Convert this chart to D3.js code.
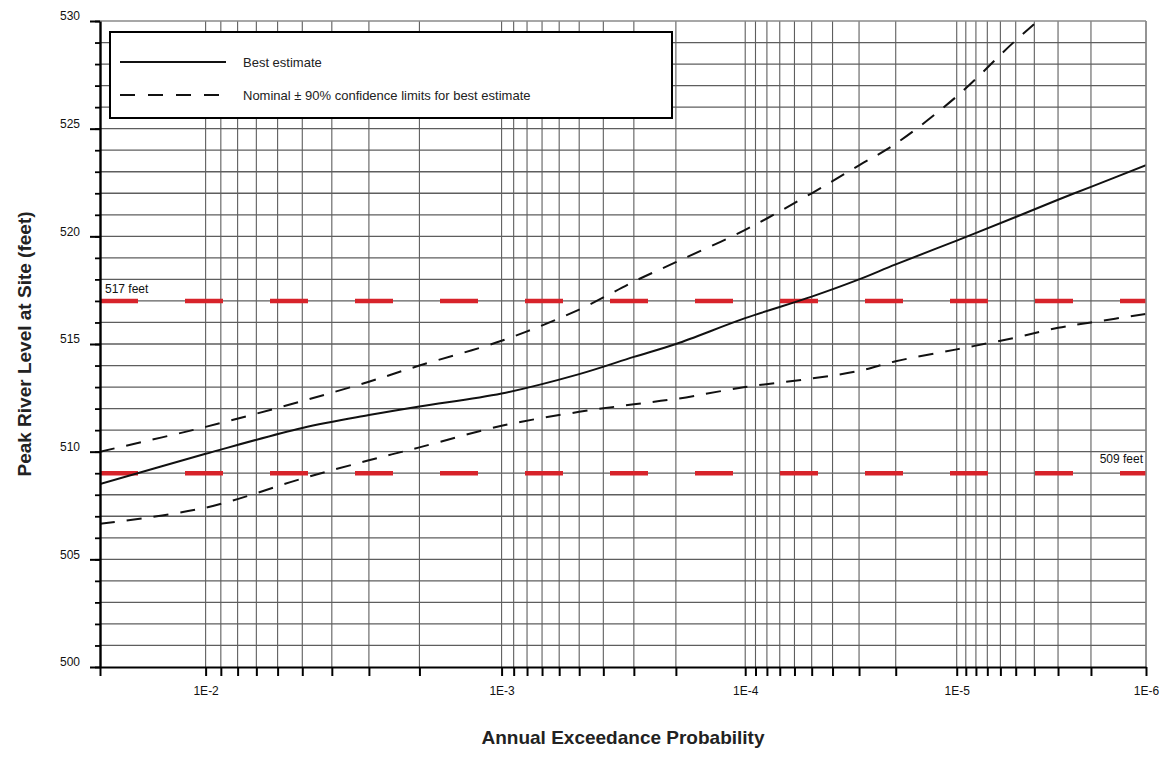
<!DOCTYPE html>
<html>
<head>
<meta charset="utf-8">
<script src="https://cdn.jsdelivr.net/npm/d3@7"></script>
<style>
  body { margin: 0; background: #fff; }
  svg { font-family: "Liberation Sans", Arial, sans-serif; }
</style>
</head>
<body>
<svg></svg>
<script>
// exceedance probabilities where the curves were read
const probs = [2e-2, 1e-2, 5e-3, 3e-3, 2e-3, 1e-3, 5e-4, 3e-4, 2e-4, 1e-4, 5e-5, 3e-5, 2e-5, 1e-5, 5e-6, 3e-6, 2e-6, 1e-6];
// peak river level (feet)
const bestEstimate = [508.5, 509.9, 511.1, 511.7, 512.1, 512.7, 513.6, 514.4, 515.0, 516.2, 517.2, 518.0, 518.7, 519.8, 520.9, 521.7, 522.3, 523.3];
const upperLimit   = [510.0, 511.15, 512.35, 513.25, 514.0, 515.15, 516.6, 517.9, 518.8, 520.3, 522.0, 523.3, 524.3, 526.5, 529.1, 530.8, 532.0, 533.5];
const lowerLimit   = [506.65, 507.4, 508.75, 509.6, 510.2, 511.2, 511.85, 512.2, 512.45, 513.0, 513.4, 513.75, 514.2, 514.75, 515.3, 515.75, 516.0, 516.4];
// reference levels
const refLevels = [517, 509];
const refLabels = ['517 feet', '509 feet'];
// axis ticks
const xDecades = [1e-2, 1e-3, 1e-4, 1e-5, 1e-6];
const xTickLabels = ['1E-2', '1E-3', '1E-4', '1E-5', '1E-6'];
const yMajor = [500, 505, 510, 515, 520, 525, 530];

const size = {w: 1172, h: 775};
const plot = {l: 100, r: 1146, t: 21, b: 667};

const svg = d3.select('svg')
    .attr('width', size.w)
    .attr('height', size.h);

// inverse standard normal (Acklam), used for the probability paper axis
function invNorm(p) {
    const a = [-3.969683028665376e+01, 2.209460984245205e+02, -2.759285104469687e+02, 1.383577518672690e+02, -3.066479806614716e+01, 2.506628277459239e+00];
    const b = [-5.447609879822406e+01, 1.615858368580409e+02, -1.556989798598866e+02, 6.680131188771972e+01, -1.328068155288572e+01];
    const c = [-7.784894002430293e-03, -3.223964580411365e-01, -2.400758277161838e+00, -2.549732539343734e+00, 4.374664141464968e+00, 2.938163982698783e+00];
    const d = [7.784695709041462e-03, 3.224671290700398e-01, 2.445134137142996e+00, 3.754408661907416e+00];
    let q, r;
    if (p < 0.02425) {
        q = Math.sqrt(-2 * Math.log(p));
        return (((((c[0]*q+c[1])*q+c[2])*q+c[3])*q+c[4])*q+c[5]) / ((((d[0]*q+d[1])*q+d[2])*q+d[3])*q+1);
    }
    q = p - 0.5; r = q * q;
    return (((((a[0]*r+a[1])*r+a[2])*r+a[3])*r+a[4])*r+a[5])*q / (((((b[0]*r+b[1])*r+b[2])*r+b[3])*r+b[4])*r+1);
}
const zOf = p => -invNorm(p);

const xz = d3.scaleLinear()
    .domain([zOf(2e-2), zOf(1e-6)])
    .range([plot.l, plot.r]);
const x = p => xz(zOf(p));

const y = d3.scaleLinear()
    .domain([500, 530])
    .range([plot.b, plot.t]);

// grid probabilities: 1..9 x each decade inside the range
const gridProbs = [1e-2];
[1e-3, 1e-4, 1e-5, 1e-6].forEach(dec => {
    for (let k = 1; k <= 9; k++) gridProbs.push(k * dec);
});

const gridColor = '#5e5e5e';
const grid = svg.append('g').attr('class', 'grid');

// horizontal grid every foot
grid.selectAll('line.h')
    .data(d3.range(501, 530))
    .enter().append('line')
    .attr('x1', plot.l).attr('x2', plot.r)
    .attr('y1', d => y(d)).attr('y2', d => y(d))
    .attr('stroke', gridColor).attr('stroke-width', 1.3);

// vertical grid
grid.selectAll('line.v')
    .data(gridProbs)
    .enter().append('line')
    .attr('x1', d => x(d)).attr('x2', d => x(d))
    .attr('y1', plot.t).attr('y2', plot.b)
    .attr('stroke', gridColor).attr('stroke-width', 1.1);

// reference levels
svg.selectAll('line.ref')
    .data(refLevels)
    .enter().append('line')
    .attr('x1', plot.l).attr('x2', plot.r)
    .attr('y1', d => y(d)).attr('y2', d => y(d))
    .attr('stroke', '#d7232a').attr('stroke-width', 4.5)
    .attr('stroke-dasharray', '38,47');

svg.append('text')
    .attr('x', plot.l + 5).attr('y', y(refLevels[0]) - 8)
    .attr('font-size', 12).attr('fill', '#111')
    .text(refLabels[0]);
svg.append('text')
    .attr('x', plot.r - 3).attr('y', y(refLevels[1]) - 10)
    .attr('text-anchor', 'end')
    .attr('font-size', 12).attr('fill', '#111')
    .text(refLabels[1]);

// curves
svg.append('clipPath').attr('id', 'clip')
    .append('rect')
    .attr('x', plot.l).attr('y', plot.t)
    .attr('width', plot.r - plot.l).attr('height', plot.b - plot.t);

const line = d3.line()
    .x((d, i) => x(probs[i]))
    .y(d => y(d))
    .curve(d3.curveCatmullRom.alpha(0.5));

const curves = svg.append('g').attr('clip-path', 'url(#clip)');
curves.append('path')
    .attr('d', line(bestEstimate))
    .attr('fill', 'none').attr('stroke', '#111').attr('stroke-width', 2);
[upperLimit, lowerLimit].forEach(s => {
    curves.append('path')
        .attr('d', line(s))
        .attr('fill', 'none').attr('stroke', '#111').attr('stroke-width', 2)
        .attr('stroke-dasharray', '15,12');
});

// frame top / right
svg.append('line')
    .attr('x1', plot.l).attr('x2', plot.r).attr('y1', plot.t).attr('y2', plot.t)
    .attr('stroke', '#8a8a8a').attr('stroke-width', 1.3);
svg.append('line')
    .attr('x1', plot.r).attr('x2', plot.r).attr('y1', plot.t).attr('y2', plot.b)
    .attr('stroke', '#8a8a8a').attr('stroke-width', 1.3);

// x axis
const xAxis = svg.append('g')
    .attr('transform', 'translate(0,' + plot.b + ')')
    .call(d3.axisBottom(xz)
        .tickValues([2e-2].concat(gridProbs).map(zOf))
        .tickSize(9)
        .tickSizeOuter(0)
        .tickFormat(z => {
            const i = xDecades.findIndex(p => Math.abs(zOf(p) - z) < 1e-6);
            return i >= 0 ? xTickLabels[i] : '';
        }));
xAxis.select('.domain').attr('stroke', '#000').attr('stroke-width', 2.2);
xAxis.selectAll('.tick line').attr('stroke', '#000').attr('stroke-width', 2);
xAxis.selectAll('.tick text')
    .attr('font-size', 12).attr('fill', '#111')
    .attr('font-family', '"Liberation Sans", Arial, sans-serif')
    .attr('dy', '1.3em');

// y axis: minor then major
const yMinor = svg.append('g')
    .attr('transform', 'translate(' + plot.l + ',0)')
    .call(d3.axisLeft(y).tickValues(d3.range(500, 531)).tickSize(5).tickFormat(''));
yMinor.select('.domain').remove();
yMinor.selectAll('.tick line').attr('stroke', '#000').attr('stroke-width', 1.8);

const yAxis = svg.append('g')
    .attr('transform', 'translate(' + plot.l + ',0)')
    .call(d3.axisLeft(y).tickValues(yMajor).tickSize(10).tickSizeOuter(0).tickFormat(d3.format('d')));
yAxis.select('.domain').attr('stroke', '#000').attr('stroke-width', 2.4);
yAxis.selectAll('.tick line').attr('stroke', '#000').attr('stroke-width', 2);
yAxis.selectAll('.tick text')
    .attr('font-size', 12).attr('fill', '#111')
    .attr('font-family', '"Liberation Sans", Arial, sans-serif')
    .attr('x', -20).attr('dy', '-0.1em');

// axis titles
svg.append('text')
    .attr('transform', 'translate(31,' + ((plot.t + plot.b) / 2) + ') rotate(-90)')
    .attr('text-anchor', 'middle')
    .attr('font-size', 19).attr('font-weight', 'bold').attr('fill', '#222')
    .text('Peak River Level at Site (feet)');
svg.append('text')
    .attr('x', (plot.l + plot.r) / 2).attr('y', 744)
    .attr('text-anchor', 'middle')
    .attr('font-size', 19).attr('font-weight', 'bold').attr('fill', '#222')
    .text('Annual Exceedance Probability');

// legend
const legend = svg.append('g');
legend.append('rect')
    .attr('x', 110).attr('y', 32).attr('width', 562).attr('height', 86)
    .attr('fill', '#fff').attr('stroke', '#000').attr('stroke-width', 2);
legend.append('line')
    .attr('x1', 120).attr('x2', 226).attr('y1', 62).attr('y2', 62)
    .attr('stroke', '#111').attr('stroke-width', 2);
legend.append('line')
    .attr('x1', 120).attr('x2', 224).attr('y1', 95).attr('y2', 95)
    .attr('stroke', '#111').attr('stroke-width', 2)
    .attr('stroke-dasharray', '15,13');
legend.append('text')
    .attr('x', 243).attr('y', 67)
    .attr('font-size', 13).attr('fill', '#222')
    .text('Best estimate');
legend.append('text')
    .attr('x', 243).attr('y', 100)
    .attr('font-size', 13).attr('fill', '#222')
    .text('Nominal \u00b1 90% confidence limits for best estimate');
</script>
</body>
</html>
